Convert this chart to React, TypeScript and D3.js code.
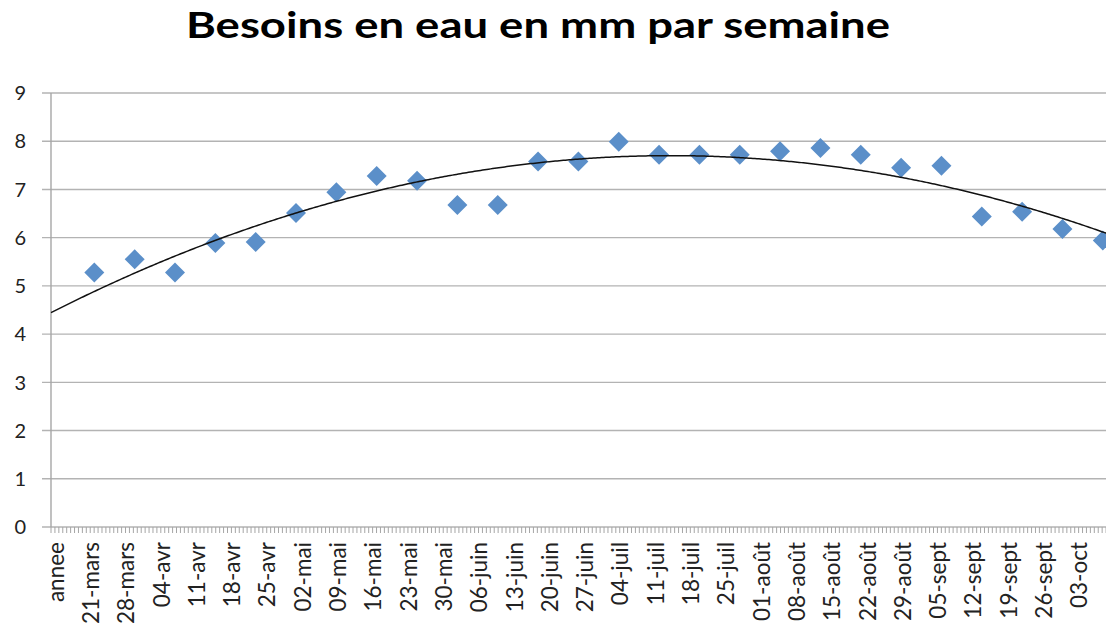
import * as d3 from 'd3';

const title = 'Besoins en eau en mm par semaine';

// category labels shown under the axis
const dateLabels = [
  'annee', '21-mars', '28-mars', '04-avr', '11-avr', '18-avr', '25-avr',
  '02-mai', '09-mai', '16-mai', '23-mai', '30-mai', '06-juin', '13-juin',
  '20-juin', '27-juin', '04-juil', '11-juil', '18-juil', '25-juil',
  '01-août', '08-août', '15-août', '22-août', '29-août', '05-sept',
  '12-sept', '19-sept', '26-sept', '03-oct',
];

// weekly water needs (mm)
const besoins = [
  5.28, 5.55, 5.28, 5.89, 5.91, 6.51, 6.94, 7.28, 7.18, 6.68, 6.68, 7.58, 7.58,
  7.99, 7.72, 7.72, 7.72, 7.79, 7.86, 7.72, 7.45, 7.49, 6.44, 6.54, 6.18, 5.94,
];

const yTicks = [0, 1, 2, 3, 4, 5, 6, 7, 8, 9];

const W = 1106;
const H = 632;
const left = 51;
const right = 1106;
const top = 93;
const bottom = 527;

// least squares, 2nd order polynomial (like the Excel trendline)
function polyFit(xs: number[], ys: number[]) {
  const s = (p: number) => d3.sum(xs, x => Math.pow(x, p));
  const t = (p: number) => d3.sum(xs, (x, i) => Math.pow(x, p) * ys[i]);
  const A = [
    [s(0), s(1), s(2), t(0)],
    [s(1), s(2), s(3), t(1)],
    [s(2), s(3), s(4), t(2)],
  ];
  for (let i = 0; i < 3; i++) {
    for (let j = i + 1; j < 3; j++) {
      const f = A[j][i] / A[i][i];
      for (let k = i; k < 4; k++) A[j][k] -= f * A[i][k];
    }
  }
  const c = [0, 0, 0];
  for (let i = 2; i >= 0; i--) {
    let v = A[i][3];
    for (let k = i + 1; k < 3; k++) v -= A[i][k] * c[k];
    c[i] = v / A[i][i];
  }
  return (x: number) => c[0] + c[1] * x + c[2] * x * x;
}

export default function App() {
  const xs = besoins.map((_, i) => i + 1);
  const x = d3.scaleLinear().domain([0, 26]).range([54, 1102.8]);
  const y = d3.scaleLinear().domain([0, 9]).range([bottom, top]);
  const xLabel = d3.scalePoint<string>().domain(dateLabels).range([55.5, 1079.2]);
  const minor = d3.scaleLinear().domain([0, 9]).range([left, left + 35.3]);
  const minorTicks = d3.range(0, Math.ceil((right - left) / (35.3 / 9)) + 1);

  const fit = polyFit(xs, besoins);
  const trendX = d3.range(x.invert(left), x.invert(right) + 0.05, 0.05);
  const trend = d3
    .line<number>()
    .x(d => x(d))
    .y(d => y(fit(d)))(trendX);

  const diamond = d3.symbol().type(d3.symbolSquare).size(200)();
  const font = 'Lato, "Open Sans", sans-serif';

  return (
    <svg
      width={W}
      height={H}
      style={{ position: 'absolute', left: 0, top: 0, background: '#fff' }}
    >
      <text
        x={538}
        y={38}
        textAnchor="middle"
        fontFamily={font}
        fontWeight="bold"
        fontSize={37}
        textLength={704}
        lengthAdjust="spacingAndGlyphs"
        fill="#000"
      >
        {title}
      </text>

      {yTicks.map(t => (
        <g key={t}>
          <line x1={42} x2={right} y1={y(t)} y2={y(t)} stroke="#b3b3b3" strokeWidth={1.4} />
          <text
            x={26}
            y={y(t)}
            dy="0.36em"
            textAnchor="end"
            fontFamily={font}
            fontSize={20}
            fill="#222"
          >
            {t}
          </text>
        </g>
      ))}
      <line x1={left} x2={left} y1={top} y2={bottom} stroke="#a6a6a6" strokeWidth={1.4} />

      {minorTicks.map(k => (
        <line
          key={k}
          x1={minor(k)}
          x2={minor(k)}
          y1={bottom}
          y2={bottom + 6}
          stroke="#a6a6a6"
          strokeWidth={1}
        />
      ))}

      {dateLabels.map(d => (
        <text
          key={d}
          transform={`translate(${xLabel(d)},542) rotate(-90)`}
          dy="0.36em"
          textAnchor="end"
          fontFamily={font}
          fontSize={22.5}
          fill="#222"
        >
          {d}
        </text>
      ))}

      <g>
        {besoins.map((v, i) => (
          <path
            key={i}
            d={diamond!}
            transform={`translate(${x(xs[i])},${y(v)}) rotate(45)`}
            fill="#5B8FC9"
          />
        ))}
      </g>
      <path d={trend!} fill="none" stroke="#111" strokeWidth={1.5} />
    </svg>
  );
}
